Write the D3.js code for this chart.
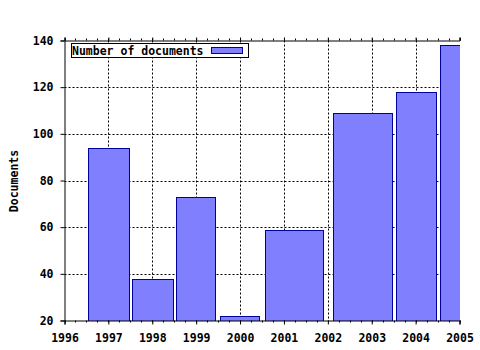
<!DOCTYPE html>
<html>
<head>
<meta charset="utf-8">
<script src="https://cdn.jsdelivr.net/npm/d3@7"></script>
<style>
  body { margin: 0; background: #fff; }
  text { font-family: "DejaVu Sans Mono", "Liberation Mono", monospace; font-weight: bold; font-size: 11.5px; fill: #000; }
</style>
</head>
<body>
<div id="chart"></div>
<script>
// bars: one per year, spanning roughly start..end on the time axis
var barYears = ["1997", "1998", "1999", "2000", "2001", "2002", "2003", "2004"];
var barStart = [1996.54, 1997.54, 1998.55, 1999.55, 2000.56, 2002.12, 2003.55, 2004.55];
var barEnd   = [1997.46, 1998.47, 1999.44, 2000.44, 2001.90, 2003.46, 2004.46, 2005.6];
var documents = [94, 38, 73, 22, 59, 109, 118, 138];

var xTicks = [1996, 1997, 1998, 1999, 2000, 2001, 2002, 2003, 2004, 2005];
var yTicks = [20, 40, 60, 80, 100, 120, 140];
var seriesName = "Number of documents";
var yTitle = "Documents";

var width = 480, height = 350;
var svg = d3.select("#chart").append("svg")
    .attr("width", width)
    .attr("height", height);

var x = d3.scaleLinear().domain([1996, 2005]).range([64.5, 459.5]);
var y = d3.scaleLinear().domain([20, 140]).range([320.5, 40.5]);

svg.append("defs").append("clipPath").attr("id", "plot")
    .append("rect").attr("x", 64).attr("y", 40).attr("width", 396).attr("height", 281);

// grid
var grid = svg.append("g").attr("stroke", "#000").attr("stroke-dasharray", "2,2").attr("stroke-width", 1);
grid.selectAll(".vg").data(xTicks.slice(1, -1)).enter().append("line")
    .attr("x1", d => Math.round(x(d)) + 0.5).attr("x2", d => Math.round(x(d)) + 0.5)
    .attr("y1", y(140)).attr("y2", y(20));
grid.selectAll(".hg").data(yTicks.slice(1, -1)).enter().append("line")
    .attr("x1", x(1996)).attr("x2", x(2005))
    .attr("y1", d => Math.round(y(d)) + 0.5).attr("y2", d => Math.round(y(d)) + 0.5);

// bars
var bars = barYears.map(function(k, i) {
    return {year: k, start: barStart[i], end: barEnd[i], value: documents[i]};
});
svg.append("g").attr("clip-path", "url(#plot)")
  .selectAll("rect").data(bars).enter().append("rect")
    .attr("x", d => Math.round(x(d.start)) + 0.5)
    .attr("width", d => Math.round(x(d.end)) - Math.round(x(d.start)))
    .attr("y", d => Math.round(y(d.value)) + 0.5)
    .attr("height", d => Math.round(y(20)) - Math.round(y(d.value)))
    .attr("fill", "#8080ff")
    .attr("stroke", "#0000a0")
    .attr("stroke-width", 1);

// axes (ticks point outward, minor ticks every quarter year)
var xMinor = d3.range(1996, 2005.01, 0.25);

var xBottom = svg.append("g").attr("transform", "translate(0," + y(20) + ")")
    .call(d3.axisBottom(x).tickValues(xTicks).tickFormat(d3.format("d")).tickSize(4).tickPadding(9));
xBottom.selectAll(".minor").data(xMinor).enter().append("line")
    .attr("x1", d => Math.round(x(d)) + 0.5).attr("x2", d => Math.round(x(d)) + 0.5)
    .attr("y1", 0).attr("y2", 2).attr("stroke", "#000");

var xTop = svg.append("g").attr("transform", "translate(0," + y(140) + ")")
    .call(d3.axisTop(x).tickValues(xTicks).tickFormat("").tickSize(3));
xTop.selectAll(".minor").data(xMinor).enter().append("line")
    .attr("x1", d => Math.round(x(d)) + 0.5).attr("x2", d => Math.round(x(d)) + 0.5)
    .attr("y1", 0).attr("y2", -2).attr("stroke", "#000");

svg.append("g").attr("transform", "translate(" + x(1996) + ",0)")
    .call(d3.axisLeft(y).tickValues(yTicks).tickSize(4).tickPadding(7));

svg.selectAll(".domain").attr("stroke", "#000");
svg.selectAll(".tick line").attr("stroke", "#000");
svg.selectAll(".tick text")
    .style("font-family", "DejaVu Sans Mono, monospace")
    .style("font-weight", "bold")
    .style("font-size", "11.5px")
    .attr("fill", "#000");

// y title
svg.append("text")
    .attr("transform", "translate(18,181) rotate(-90)")
    .attr("text-anchor", "middle")
    .text(yTitle);

// legend
var legend = svg.append("g");
legend.append("rect")
    .attr("x", 71.5).attr("y", 43.5).attr("width", 177).attr("height", 14)
    .attr("fill", "#fff").attr("stroke", "#000");
legend.append("text").attr("x", 72).attr("y", 54.5).text(seriesName);
legend.append("rect")
    .attr("x", 211.5).attr("y", 47.5).attr("width", 31).attr("height", 6)
    .attr("fill", "#8080ff").attr("stroke", "#0000a0");
</script>
</body>
</html>
